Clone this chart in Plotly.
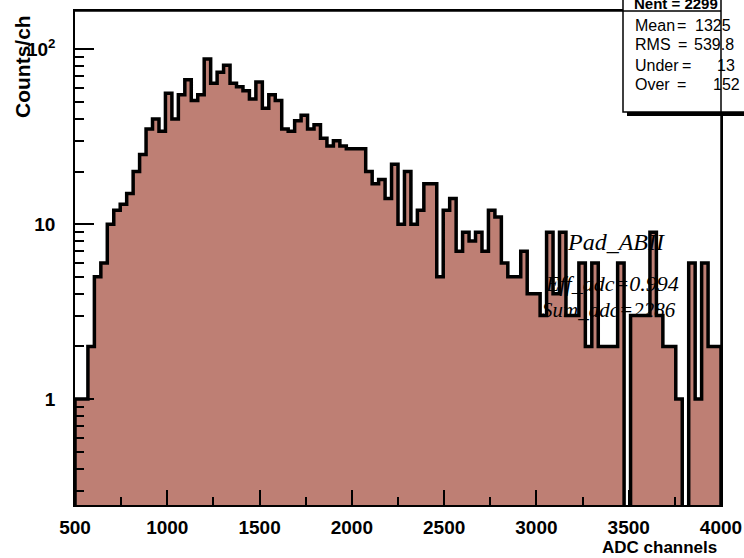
import plotly.graph_objects as go

# ---------------- data ----------------
x_min, x_max, n_bins = 500, 4000, 100
counts = [1, 1, 2, 5, 6, 10, 12, 13, 15, 20,
          25, 35, 40, 34, 56, 40, 55, 67, 51, 55,
          88, 64, 74, 81, 64, 61, 58, 52, 65, 46,
          55, 51, 35, 34, 39, 42, 35, 37, 31, 28,
          30, 28, 27, 27, 27, 20, 17, 18, 14, 22,
          10, 20, 10, 12, 17, 17, 5, 12, 14, 7,
          9, 8, 9, 7, 12, 11, 6, 5, 5, 7,
          4, 4, 3, 9, 4, 9, 3, 3, 6, 2,
          6, 2, 2, 2, 6, 0, 3, 3, 3, 9,
          3, 2, 2, 1, 0, 6, 1, 6, 2, 2]
x_ticks = [500, 1000, 1500, 2000, 2500, 3000, 3500, 4000]
x_tick_labels = ["500", "1000", "1500", "2000", "2500", "3000", "3500", "4000"]
x_minor = [750, 1250, 1750, 2250, 2750, 3250, 3750]
y_ticks = [1, 10, 100]
y_tick_labels = ["1", "10", "10<sup>2</sup>"]
y_minor = [0.3, 0.4, 0.5, 0.6, 0.7, 0.8, 0.9,
           2, 3, 4, 5, 6, 7, 8, 9,
           20, 30, 40, 50, 60, 70, 80, 90]
stats_labels = ["Mean", "RMS", "Under", "Over"]
stats_values = ["1325", "539.8", "13", "152"]
stats_title = "Nent = 2299"
pad_texts = ["Pad_ABII", "Eff_adc=0.994", "Sum_adc=2286"]

# ---------------- geometry ----------------
W, H = 744, 558
L, R, T, B = 75, 721, 11, 505


def px(x):
    return (x - L) / (R - L)


def py(y):
    return (B - y) / (B - T)


bin_w = (x_max - x_min) / n_bins
edges = [x_min + i * bin_w for i in range(n_bins + 1)]
centers = [x_min + (i + 0.5) * bin_w for i in range(n_bins)]
floor = 1e-3
step_x = [x_min] + edges
step_y = [floor] + [c if c > 0 else floor for c in counts] + [floor]

fill_col = "rgb(190,127,116)"
sans = "Liberation Sans, Arial, sans-serif"
serif = "Liberation Serif, Times New Roman, serif"

fig = go.Figure()
fig.add_trace(go.Bar(x=centers, y=counts, width=bin_w,
                     marker=dict(color=fill_col, line=dict(width=0)),
                     hoverinfo="skip"))
fig.add_trace(go.Scatter(x=step_x, y=step_y, mode="lines",
                         line=dict(color="black", width=3.5, shape="hv"),
                         hoverinfo="skip"))

fig.update_layout(
    width=W, height=H,
    margin=dict(l=L, r=W - R, t=T, b=H - B, autoexpand=False),
    paper_bgcolor="white", plot_bgcolor="white",
    showlegend=False, bargap=0,
    xaxis=dict(range=[x_min, x_max], showgrid=False, zeroline=False,
               automargin=False,
               showline=True, mirror=True, linecolor="black", linewidth=1.5,
               ticks="inside", ticklen=15, tickwidth=1.5, tickcolor="black",
               tickvals=x_ticks, ticktext=x_tick_labels,
               tickfont=dict(family=sans, size=19, color="black", weight="bold"),
               ticklabelstandoff=4, ticklabeloverflow="allow",
               minor=dict(tickvals=x_minor, ticks="inside", ticklen=8,
                          tickwidth=1.5, tickcolor="black")),
    yaxis=dict(type="log", range=[-0.6057, 2.2189], showgrid=False, zeroline=False,
               automargin=False,
               showline=True, mirror=True, linecolor="black", linewidth=1.5,
               ticks="inside", ticklen=19, tickwidth=1.5, tickcolor="black",
               tickvals=y_ticks, ticktext=y_tick_labels,
               tickfont=dict(family=sans, size=19, color="black", weight="bold"),
               ticklabelstandoff=14,
               minor=dict(tickvals=y_minor, ticks="inside", ticklen=9,
                          tickwidth=1.5, tickcolor="black")),
)

shapes = []
# stats box with shadow
shapes.append(dict(type="rect", xref="paper", yref="paper",
                   x0=px(627), x1=px(760), y0=py(116), y1=py(-20),
                   fillcolor="black", line=dict(width=0), layer="above"))
shapes.append(dict(type="rect", xref="paper", yref="paper",
                   x0=px(623), x1=px(760), y0=py(112), y1=py(-20),
                   fillcolor="white", line=dict(color="black", width=1.5), layer="above"))
# frame top and right edges drawn over the box
shapes.append(dict(type="line", xref="paper", yref="paper",
                   x0=px(L), x1=px(R), y0=py(T), y1=py(T),
                   line=dict(color="black", width=1.5), layer="above"))
shapes.append(dict(type="line", xref="paper", yref="paper",
                   x0=px(R), x1=px(R), y0=py(B), y1=py(T - 15),
                   line=dict(color="black", width=1.5), layer="above"))
fig.update_layout(shapes=shapes)

ann = []
stat_font = dict(family=sans, size=16, color="black")


def note(x, y, text, font, xanchor="left", **kw):
    ann.append(dict(xref="paper", yref="paper", x=px(x), y=py(y), text=text,
                    showarrow=False, xanchor=xanchor, yanchor="middle",
                    font=font, **kw))


note(632, 3, stats_title, dict(family=sans, size=15, color="black", weight="bold"))
row_y = [25, 45, 65, 85]
eq_x = [675, 676, 680, 675]
val_x = [693, 692, 715, 711]
for lab, val, yy, ex, vx in zip(stats_labels, stats_values, row_y, eq_x, val_x):
    note(633, yy, lab, stat_font)
    note(ex, yy, "=", stat_font)
    note(vx, yy, val, stat_font)

pad_pos = [(565, 242, 24), (543, 284, 22), (540, 310, 21)]
for t, (xx, yy, sz) in zip(pad_texts, pad_pos):
    note(xx, yy, "<i>" + t + "</i>", dict(family=serif, size=sz, color="black"))

note(23, 67, "Counts/ch", dict(family=sans, size=21, color="black", weight="bold"),
     xanchor="center", textangle=-90)
note(719, 547, "ADC channels", dict(family=sans, size=17, color="black", weight="bold"),
     xanchor="right")
fig.update_layout(annotations=ann)

fig.write_html("out.html")
